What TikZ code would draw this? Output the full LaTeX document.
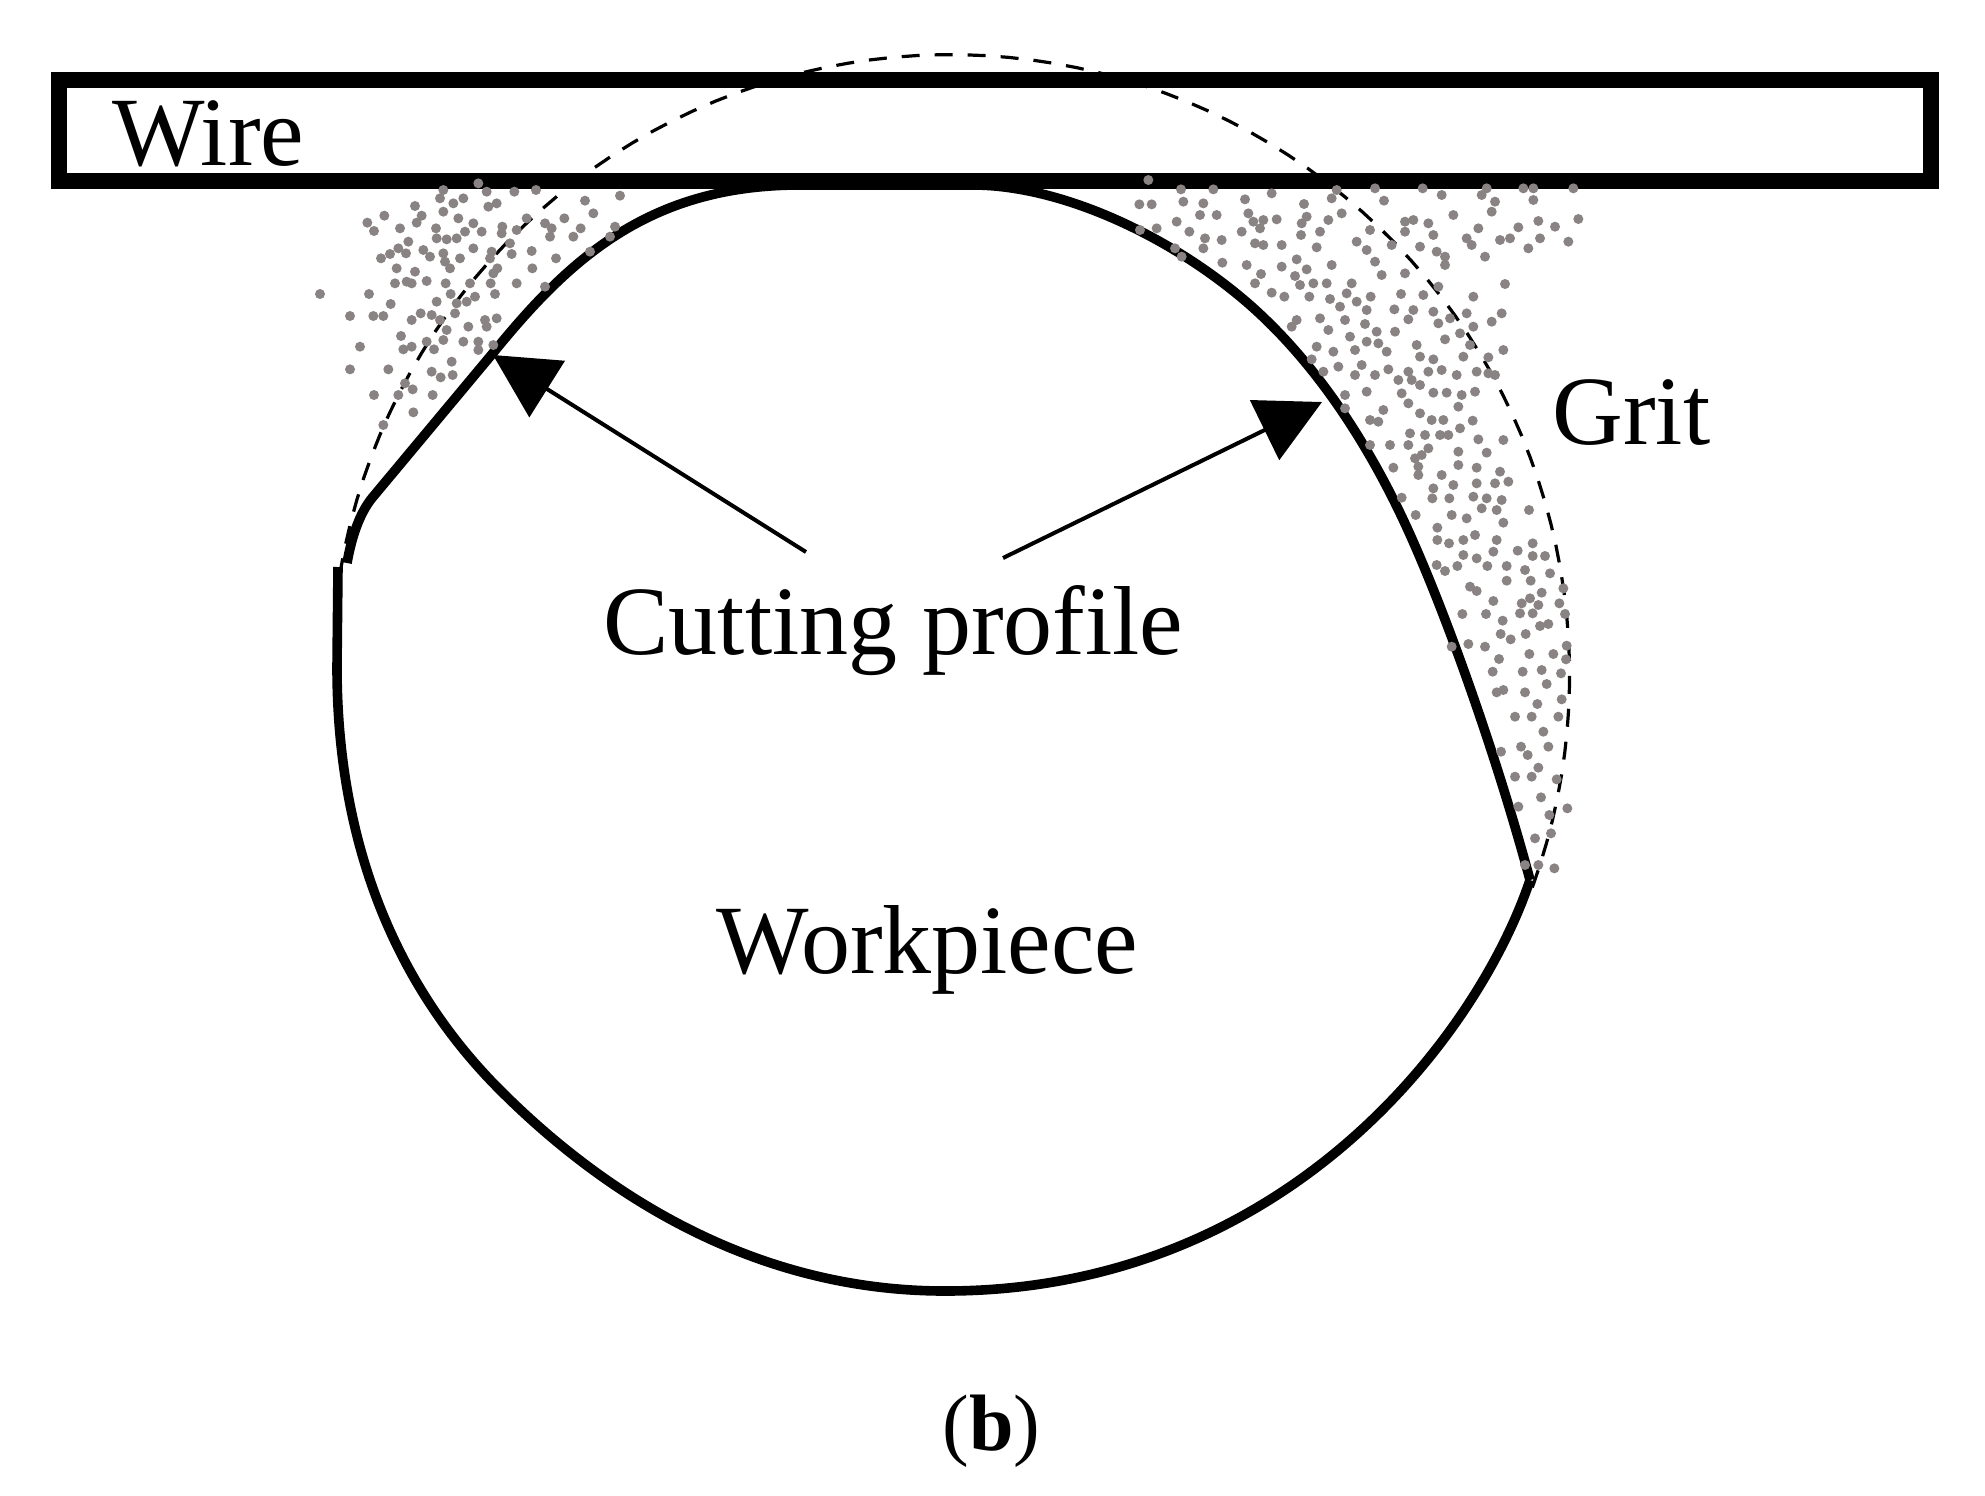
\documentclass[tikz,border=0pt]{standalone}
\usepackage{fontspec}
\setmainfont{Liberation Serif}
\usetikzlibrary{arrows.meta}
\definecolor{gritc}{HTML}{8A8384}
\newcommand{\gritdots}[3]{\foreach \a/\b in {#3} \fill[gritc] ({#1+\a/3},{#2+\b/3}) circle[radius=5];}
\tikzset{
  lab/.style={anchor=base west,inner sep=0pt,font=\fontsize{49}{49}\selectfont},
  outline/.style={line width=4.8pt,line join=round,line cap=butt},
  wirebox/.style={line width=7.7pt},
  dashline/.style={line width=1.6pt,dash pattern=on 9pt off 7.5pt},
  pointer/.style={line width=2pt,-{Triangle[length=32pt,width=33pt]}}
}
\begin{document}
\begin{tikzpicture}[x=0.5pt,y=-0.5pt]
\useasboundingbox (0,0) rectangle (1985,1495);
\fill[white] (0,0) rectangle (1985,1495);
\draw[dashline] plot[domain=-20:170,samples=90] ({950.6+619*cos(\x)},{675.2-620.6*sin(\x)});
\coordinate (c1) at (347,563);
\coordinate (c2) at (1530,880);
\coordinate (c3) at (338,567);
\draw[outline] (c1) .. controls (352,535) and (360,513) .. (372,498) -- (493,353)
  .. controls (570,258) and (650,185) .. (800,185) -- (973,185)
  .. controls (1060,185) and (1170,235) .. (1250,305)
  .. controls (1310,358) and (1360,430) .. (1400,513)
  .. controls (1440,596) and (1495,750) .. (c2);
\draw[outline] (c2) .. controls (1480,1030) and (1290,1291) .. (945,1291)
  .. controls (760,1291) and (610,1200) .. (500,1090)
  .. controls (400,990) and (337,850) .. (337,667) -- (c3);
\coordinate (a1s) at (806,552);
\coordinate (a1t) at (493,355);
\coordinate (a2s) at (1003,558);
\coordinate (a2t) at (1322,402);
\draw[pointer] (a1s) -- (a1t);
\draw[pointer] (a2s) -- (a2t);
\draw[wirebox] (59,80) rectangle (1931,181);
\gritdots{300}{150}{60/432,207/432,272/462,150/498,220/498,250/498,180/590,150/658,265/658,222/735,295/735,338/718,398/735,340/787,250/825,315/700,303/558,310/598,335/590,380/575,402/598,430/570,440/540,420/510,395/495,362/490,335/510,410/455,505/530,555/510,590/505,560/530,490/575,535/575,535/600,580/585,455/635,395/665,422/682,458/675,285/400,320/395,335/400,345/365,290/355,380/393,437/400,452/432,510/400,470/460,500/455,525/440,465/490,572/400,585/432,580/370,592/355,650/400,697/355,243/325,270/312,295/295,318/310,325/275,300/235,222/243,202/218,253/197,345/168,365/197,350/218,408/235,410/265,440/268,470/265,495/245,520/220,545/245,607/230,605/250,650/240,680/205,630/280,575/305,570/325,635/312,520/295,480/325,450/355,430/310,435/335,370/300,390/320,695/303,768/325,793/205,735/220,755/235,750/260,820/260,842/235,880/190,855/152,960/137,708/120,643/125,560/125,535/100,590/160,565/170,490/145,430/120,420/145,460/160,430/185,475/205,945/230,930/260,870/305,735/410}
\gritdots{1100}{150}{145/90,118/163,155/163,243/118,340/118,250/155,310/160,300/195,350/195,230/215,268/245,315/265,365/270,310/295,367/338,170/235,120/240,225/295,245/320,435/148,515/130,445/190,460/215,490/210,480/235,530/208,425/245,465/280,490/285,545/285,440/345,545/350,483/372,465/400,515/428,553/440,612/162,620/200,605/220,603/255,660/245,685/210,725/190,695/145,710/120,650/292,590/328,620/358,585/378,600/405,695/345,640/400,680/400,628/440,825/115,852/152,968/115,1025/135,1145/135,1185/155,1175/185,1160/115,1060/195,1135/235,1100/265,1115/285,1155/320,1200/270,1230/265,1255/232,1315/213,1365/230,1435/207,1320/265,1285/295,1405/275,1300/115,1300/150,1420/115,1270/115,810/240,770/275,800/300,825/335,845/375,915/370,875/285,915/215,940/210,985/220,915/245,1000/255,960/290,1010/305,1035/320,1035/345,1215/402,1120/440,1205/490,1175/515,1100/490,1120/530,1015/410,970/435,903/432,883/478,940/480,925/508,1000/485,1015/520,1050/505,1080/550,1035/568,885/545,755/400,740/430,720/470,735/510,770/455,800/480,812/440,690/447,795/522,685/540,750/560,765/600,800/575,830/545,835/580,860/605,660/505,590/510,575/530,1110/585,1090/620,1165/622,1210/600,950/585,960/620,1000/628,985/665,1025/660,1070/675,1130/665,1165/670,1185/675,650/590,700/605,635/628,670/665,715/650,765/675,785/645,825/675,865/658,925/665,895/690,935/690,960/705,735/735,800/725,905/730,925/760,1000/728,1040/728,1085/735,1125/725,1075/770,850/780,735/775,960/790,995/810,1030/810,1118/812,1080/835,810/810,835/815,930/850,975/855,1020/855,1045/855,1135/868,1210/870,810/885,870/885,925/885,985/895,965/915,945/925,1075/905,1160/908,880/953,955/950,955/975,1025/975,1075/945,1130/953,1200/965,1225/995,1185/1000,1130/1000,1060/1005,1000/1015,997/1045,1048/1045,1120/1040,1160/1045,1205/1050,905/1043}
\gritdots{1350}{500}{197/45,305/45,350/55,395/25,440/30,537/30,460/68,262/83,262/120,297/130,340/120,375/105,440/120,430/155,503/152,548/130,548/168,585/168,340/165,380/175,322/198,260/195,285/213,412/198,470/198,525/210,600/220,470/242,542/242,640/265,360/260,380/273,430/303,575/278,540/295,515/310,510/340,548/340,565/315,628/310,645/342,337/342,408/342,458/362,570/378,595/372,527/402,452/402,482/418,405/440,355/432,305/440,650/437,538/462,610/462,648/478,447/477,428/515,518/515,575/510,633/520,590/552,460/570,440/577,525/577,635/598,562/612,495/650,545/650,625/650,580/695,513/740,533/765,595/740,453/755,565/803,495/830,545/830,620/838,573/892,652/925,505/920,598/945,603/1000,555/1015,613/1105,565/1095,525/1095}
\node[lab] (wire) at (112,165) {Wire};
\node[lab] (grit) at (1552,444) {Grit};
\node[lab] (cut) at (603,654) {Cutting profile};
\node[lab] (work) at (716,973) {Workpiece};
\node[anchor=base west,inner sep=0pt,font=\fontsize{40}{40}\selectfont] (b) at (942,1450) {(\textbf{b})};
\end{tikzpicture}
\end{document}
